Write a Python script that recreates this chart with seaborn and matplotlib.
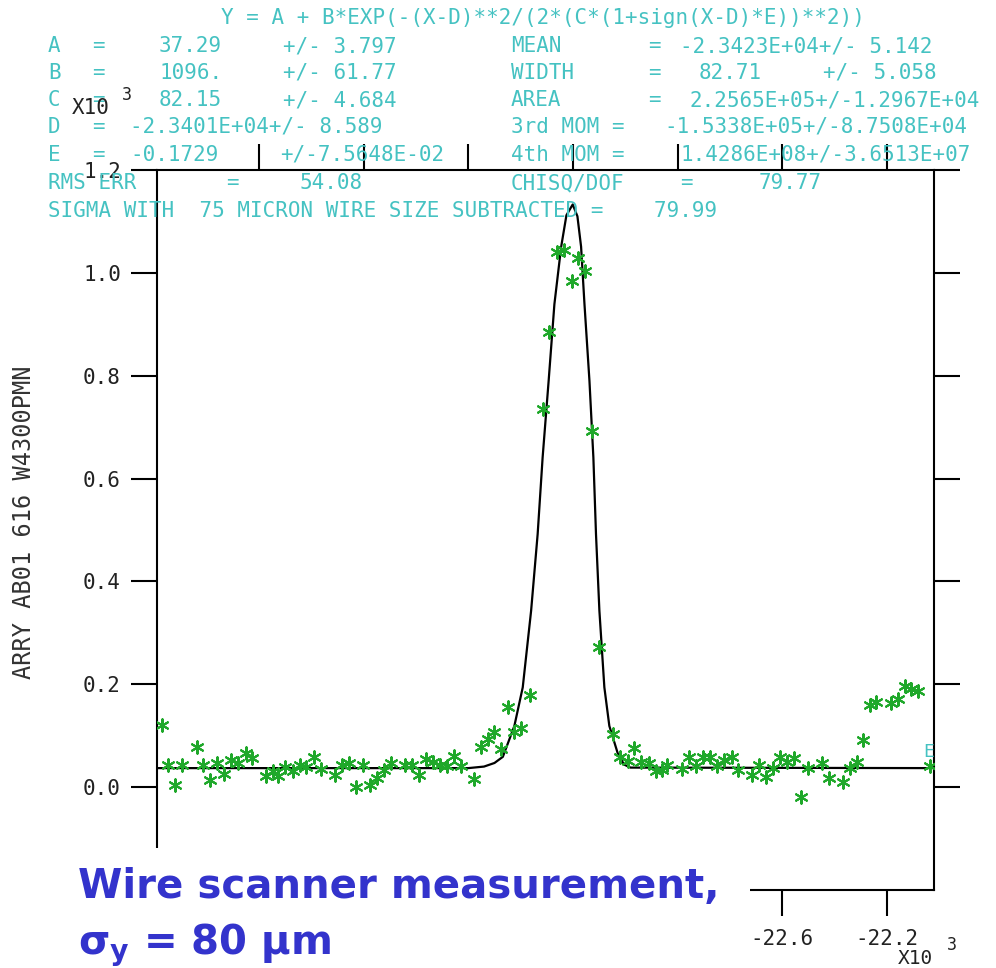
import seaborn as sns
import matplotlib.pyplot as plt
from matplotlib.patches import Rectangle

# Wire scan samples (x10^3 units on both axes)
scan_x = [-24.972, -24.947, -24.921, -24.893, -24.838, -24.813, -24.788, -24.760, -24.732, -24.706,
          -24.680, -24.651, -24.625, -24.573, -24.545, -24.526, -24.499, -24.472, -24.445, -24.419,
          -24.391, -24.364, -24.311, -24.283, -24.256, -24.229, -24.203, -24.176, -24.149, -24.122,
          -24.096, -24.042, -24.016, -23.989, -23.962, -23.935, -23.909, -23.882, -23.855, -23.827,
          -23.780, -23.751, -23.726, -23.700, -23.674, -23.647, -23.624, -23.598, -23.566, -23.513,
          -23.490, -23.462, -23.433, -23.405, -23.382, -23.353, -23.327, -23.299, -23.246, -23.220,
          -23.191, -23.167, -23.140, -23.111, -23.083, -23.058, -23.039, -22.984, -22.958, -22.930,
          -22.902, -22.876, -22.848, -22.822, -22.794, -22.768, -22.716, -22.689, -22.663, -22.635,
          -22.608, -22.580, -22.555, -22.529, -22.500, -22.448, -22.421, -22.367, -22.341, -22.313,
          -22.291, -22.265, -22.241, -22.184, -22.158, -22.132, -22.107, -22.081, -22.037]
scan_y = [0.120, 0.043, 0.004, 0.043, 0.079, 0.043, 0.014, 0.046, 0.025, 0.052,
          0.047, 0.067, 0.056, 0.021, 0.032, 0.021, 0.039, 0.032, 0.044, 0.039,
          0.059, 0.036, 0.023, 0.044, 0.047, 0.001, 0.044, 0.004, 0.017, 0.033,
          0.047, 0.043, 0.043, 0.023, 0.054, 0.049, 0.043, 0.041, 0.060, 0.041,
          0.016, 0.078, 0.093, 0.108, 0.074, 0.156, 0.108, 0.115, 0.179, 0.736,
          0.885, 1.040, 1.045, 0.985, 1.028, 1.003, 0.693, 0.272, 0.103, 0.058,
          0.050, 0.076, 0.049, 0.047, 0.031, 0.033, 0.043, 0.035, 0.058, 0.041,
          0.059, 0.059, 0.041, 0.052, 0.058, 0.033, 0.023, 0.043, 0.020, 0.038,
          0.059, 0.049, 0.056, -0.019, 0.038, 0.046, 0.018, 0.010, 0.038, 0.049,
          0.092, 0.160, 0.165, 0.163, 0.171, 0.196, 0.191, 0.187, 0.041]

# Fitted asymmetric gaussian
fit_x = [-24.99, -23.80, -23.74, -23.70, -23.668, -23.624, -23.592, -23.560, -23.535, -23.516,
         -23.493, -23.471, -23.445, -23.425, -23.401, -23.383, -23.369, -23.356, -23.337, -23.322,
         -23.312, -23.299, -23.280, -23.261, -23.229, -23.205, -23.180, -22.02]
fit_y = [0.037, 0.037, 0.040, 0.047, 0.059, 0.119, 0.194, 0.343, 0.492, 0.641,
         0.790, 0.939, 1.051, 1.112, 1.133, 1.110, 1.051, 0.939, 0.790, 0.641,
         0.492, 0.343, 0.194, 0.119, 0.066, 0.044, 0.038, 0.037]

x_ticks = [-24.6, -24.2, -23.8, -23.4, -23.0, -22.6, -22.2]
# only the two rightmost labels are visible; the rest sit under the caption panel
x_tick_labels = ["", "", "", "", "", "-22.6", "-22.2"]
y_ticks = [0.0, 0.2, 0.4, 0.6, 0.8, 1.0, 1.2]

# Fit summary printed above the frame: rows of (x pixel, text)
header_rows = [
    [(48, "A"), (92, "="), (159, "37.29"), (283, "+/- 3.797"), (511, "MEAN"), (648, "="),
     (680, "-2.3423E+04+/- 5.142")],
    [(48, "B"), (92, "="), (159, "1096."), (283, "+/- 61.77"), (511, "WIDTH"), (648, "="),
     (699, "82.71"), (823, "+/- 5.058")],
    [(48, "C"), (92, "="), (159, "82.15"), (283, "+/- 4.684"), (511, "AREA"), (648, "="),
     (689, "2.2565E+05+/-1.2967E+04")],
    [(48, "D"), (92, "="), (130, "-2.3401E+04+/- 8.589"), (511, "3rd MOM ="),
     (664, "-1.5338E+05+/-8.7508E+04")],
    [(48, "E"), (92, "="), (130, "-0.1729"), (280, "+/-7.5648E-02"), (511, "4th MOM ="),
     (680, "1.4286E+08+/-3.6513E+07")],
    [(48, "RMS ERR"), (226, "="), (299, "54.08"), (511, "CHISQ/DOF"), (680, "="), (759, "79.77")],
    [(48, "SIGMA WITH  75 MICRON WIRE SIZE SUBTRACTED =    79.99")],
]
header_y = [46, 73, 100, 127, 155, 183, 211]
formula = "Y = A + B*EXP(-(X-D)**2/(2*(C*(1+sign(X-D)*E))**2))"

teal = "#45c2c2"
green = "#1fa82a"
blue = "#3333cc"
W, H = 996, 968

sns.set_style("white")
plt.rcParams['font.family'] = ['DejaVu Sans Mono', 'DejaVu Sans']
plt.rcParams['mathtext.fontset'] = 'dejavusans'

fig = plt.figure(figsize=(W / 100, H / 100), dpi=100)


def fx(px):
    return px / W


def fy(py):
    return 1 - py / H


ax = fig.add_axes([fx(157), fy(890), (934 - 157) / W, (890 - 170) / H])

sns.lineplot(x=fit_x, y=fit_y, ax=ax, color="black", linewidth=1.6, sort=False, zorder=2)
sns.scatterplot(x=scan_x, y=scan_y, ax=ax, marker=(6, 2, 0), s=80, color=green,
                linewidth=1.5, zorder=3)

ax.set_xlim(-24.99, -22.02)
ax.set_ylim(-0.2, 1.2)
ax.set_xticks(x_ticks)
ax.set_xticklabels(x_tick_labels)
ax.set_yticks(y_ticks)
ax.set_yticklabels([f"{v:.1f}" for v in y_ticks])
ax.tick_params(axis="both", direction="out", length=19, width=1.5, color="black",
               labelsize=15, labelcolor="#222222", left=True, bottom=True, top=True,
               right=True, labelleft=True, labelbottom=True, labeltop=False, labelright=False)
ax.tick_params(axis="y", pad=7)
ax.tick_params(axis="x", pad=9)
ax.set_xlabel("")
ax.set_ylabel("")
for sp in ax.spines.values():
    sp.set_visible(True)
    sp.set_color("black")
    sp.set_linewidth(1.5)

# white panel over the lower-left corner, as in the original slide
fig.add_artist(Rectangle((0, 0), fx(750), (H - 848) / H, transform=fig.transFigure,
                         facecolor="white", edgecolor="none", zorder=5))

# header text
fig.text(fx(543), fy(18), formula, ha="center", va="center", fontsize=15, color=teal)
for row, yy in zip(header_rows, header_y):
    for xx, txt in row:
        fig.text(fx(xx), fy(yy), txt, ha="left", va="center", fontsize=15, color=teal)

# axis exponent labels
fig.text(fx(72), fy(108), "X10", ha="left", va="center", fontsize=15, color="#222222")
fig.text(fx(122), fy(95), "3", ha="left", va="center", fontsize=12, color="#222222")
fig.text(fx(898), fy(958), "X10", ha="left", va="center", fontsize=14, color="#222222",
         zorder=6)
fig.text(fx(947), fy(945), "3", ha="left", va="center", fontsize=12, color="#222222",
         zorder=6)

# y axis label
fig.text(fx(24), fy(522), "ARRY AB01 616 W4300PMN", rotation=90, ha="center", va="center",
         fontsize=17, color="#333333")

# end marker at the right edge
fig.text(fx(929), fy(752), "E", ha="center", va="center", fontsize=13, color=teal)

# annotation
fig.text(fx(78), fy(898), "Wire scanner measurement,", ha="left", va="baseline",
         fontsize=29, fontweight="bold", color=blue, family="DejaVu Sans", zorder=6)
fig.text(fx(78), fy(954), "σ$_\\mathbf{y}$ = 80 μm", ha="left", va="baseline",
         fontsize=29, fontweight="bold", color=blue, family="DejaVu Sans", zorder=6)

fig.savefig("out.png", dpi=100)
